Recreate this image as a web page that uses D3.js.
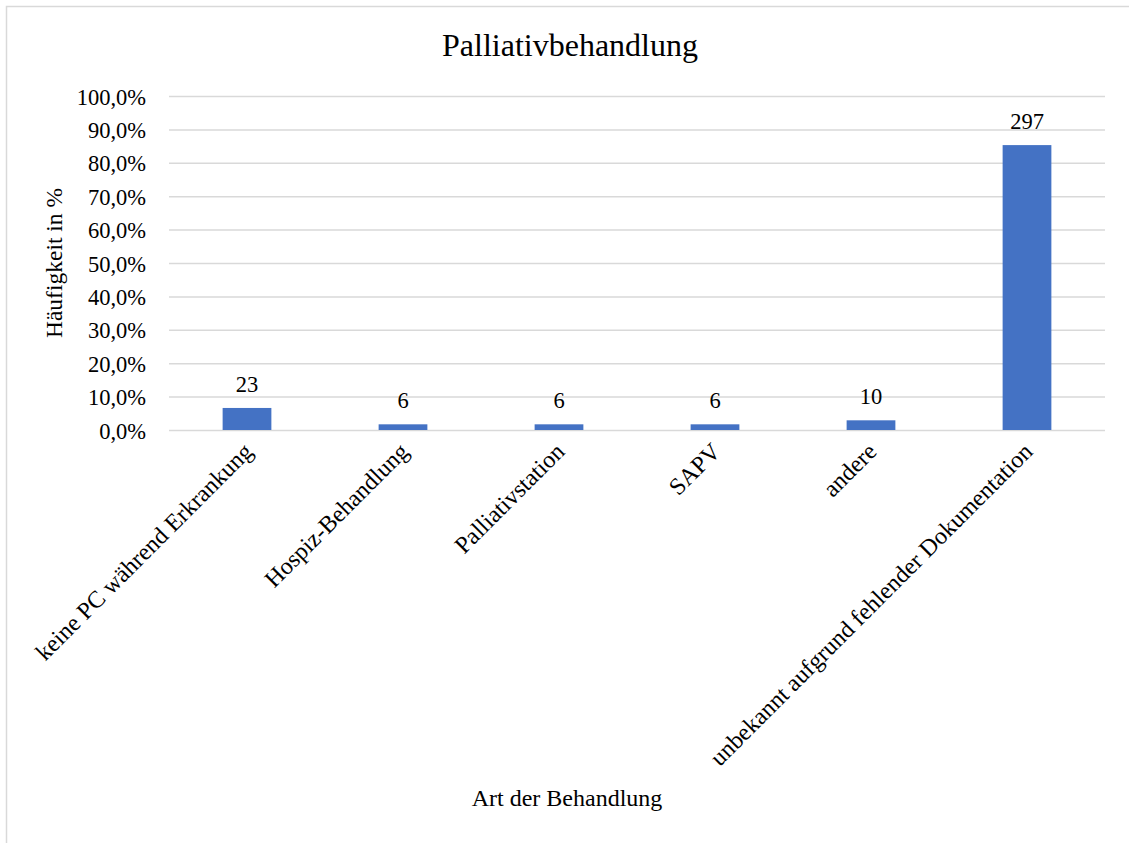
<!DOCTYPE html>
<html>
<head>
<meta charset="utf-8">
<script src="https://cdn.jsdelivr.net/npm/d3@7"></script>
<style>
  html, body { margin: 0; padding: 0; background: #fff; }
  svg { display: block; }
  text { font-family: "Liberation Serif", "Times New Roman", serif; fill: #000; }
</style>
</head>
<body>
<svg id="chart" width="1129" height="843"></svg>
<script>
const categories = [
  "keine PC während Erkrankung",
  "Hospiz-Behandlung",
  "Palliativstation",
  "SAPV",
  "andere",
  "unbekannt aufgrund fehlender Dokumentation"
];
const percentValues = [6.6, 1.7, 1.7, 1.7, 2.9, 85.3];
const countLabels = [23, 6, 6, 6, 10, 297];
const yTicks = [0, 10, 20, 30, 40, 50, 60, 70, 80, 90, 100];
const chartTitle = "Palliativbehandlung";
const xTitle = "Art der Behandlung";
const yTitle = "Häufigkeit in %";

const svg = d3.select("#chart");
const W = 1129, H = 843;
const m = { left: 169, right: 1105, top: 96, bottom: 430 };

// outer chart border
svg.append("rect")
  .attr("x", 6.5).attr("y", 6.5)
  .attr("width", W + 20).attr("height", H + 20)
  .attr("fill", "#fff").attr("stroke", "#d9d9d9").attr("stroke-width", 1.5);

const x = d3.scaleBand().domain(categories).range([m.left, m.right]).padding(0);
const y = d3.scaleLinear().domain([0, 100]).range([m.bottom, m.top]);

// grid lines + tick labels
const yAxis = d3.axisLeft(y).tickValues(yTicks).tickSize(-(m.right - m.left)).tickPadding(23)
  .tickFormat(d => d3.format(".1f")(d).replace(".", ",") + "%");
const gy = svg.append("g").attr("transform", `translate(${m.left},0)`).call(yAxis);
gy.select(".domain").remove();
gy.selectAll(".tick line").attr("stroke", "#d9d9d9").attr("stroke-width", 1.5);
gy.selectAll(".tick text")
  .style("font-family", '"Liberation Serif", "Times New Roman", serif')
  .style("font-size", "22.5px").attr("fill", "#000").attr("dy", "0.36em");

// bars
const barW = x.bandwidth() / 3.2;
svg.append("g").selectAll("rect")
  .data(categories)
  .join("rect")
  .attr("x", (d) => x(d) + x.bandwidth() / 2 - barW / 2)
  .attr("y", (d, i) => y(percentValues[i]))
  .attr("width", barW)
  .attr("height", (d, i) => y(0) - y(percentValues[i]))
  .attr("fill", "#4472c4");

// data labels
svg.append("g").selectAll("text")
  .data(categories)
  .join("text")
  .attr("x", d => x(d) + x.bandwidth() / 2)
  .attr("y", (d, i) => y(percentValues[i]) - 16)
  .attr("text-anchor", "middle")
  .style("font-size", "22.5px")
  .text((d, i) => countLabels[i]);

// category labels (rotated)
const xAxis = d3.axisBottom(x).tickSize(0).tickPadding(0);
const gx = svg.append("g").attr("transform", `translate(0,${m.bottom})`).call(xAxis);
gx.select(".domain").remove();
gx.selectAll(".tick text")
  .style("font-family", '"Liberation Serif", "Times New Roman", serif')
  .style("font-size", "24px").attr("fill", "#000")
  .attr("text-anchor", "end")
  .attr("dy", null).attr("y", 0)
  .attr("transform", "translate(7,23) rotate(-45)");

// title
svg.append("text")
  .attr("x", 570).attr("y", 56)
  .attr("text-anchor", "middle")
  .style("font-size", "32px")
  .text(chartTitle);

// x axis title
svg.append("text")
  .attr("x", 567).attr("y", 806)
  .attr("text-anchor", "middle")
  .style("font-size", "24px")
  .text(xTitle);

// y axis title
svg.append("text")
  .attr("transform", `translate(62,${(m.top + m.bottom) / 2}) rotate(-90)`)
  .attr("text-anchor", "middle")
  .style("font-size", "23.5px")
  .text(yTitle);
</script>
</body>
</html>
